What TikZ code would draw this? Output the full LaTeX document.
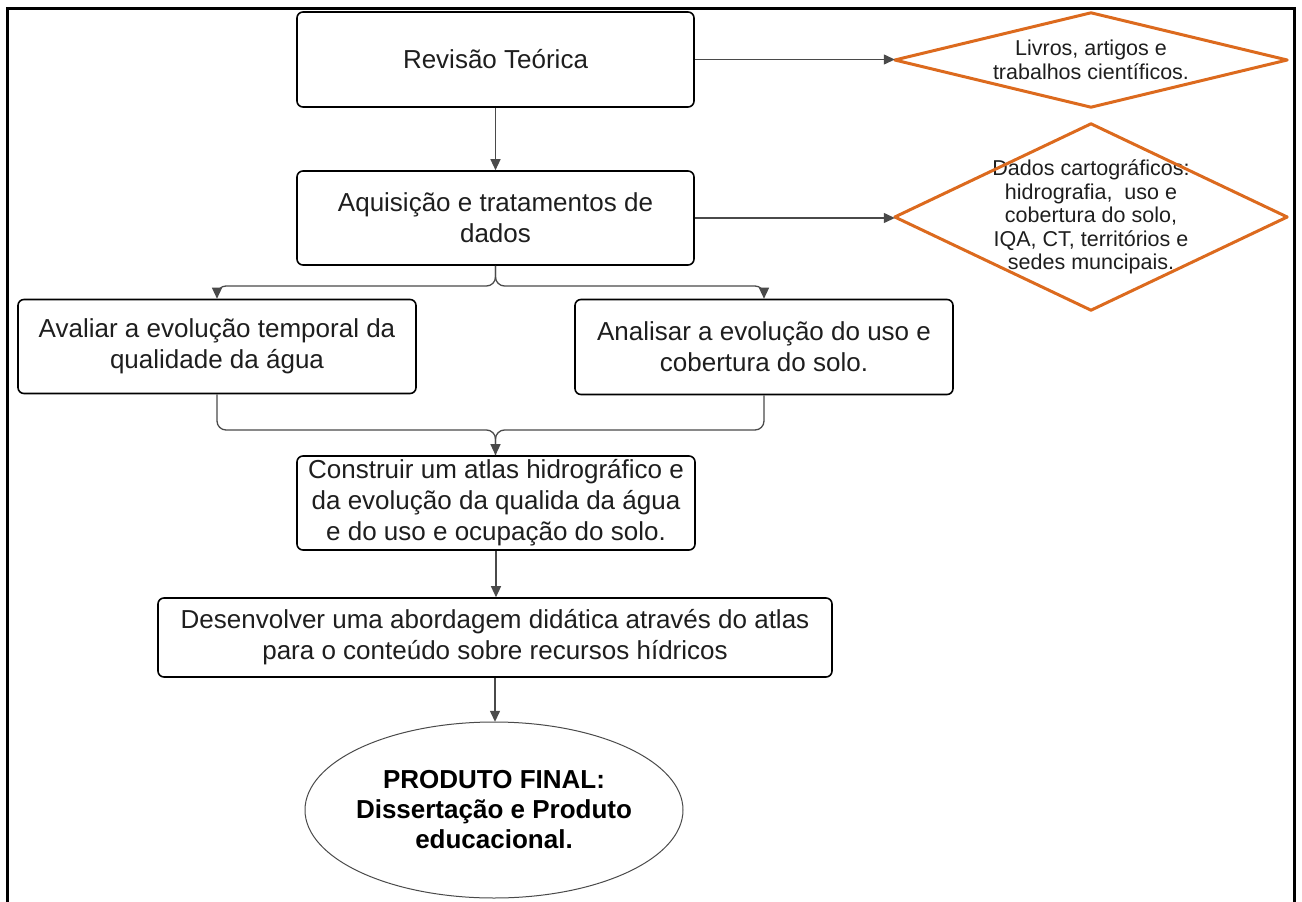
\documentclass[tikz,border=0pt]{standalone}
\usepackage{fontspec}
\setmainfont{Liberation Sans}
\usetikzlibrary{arrows.meta,shapes.geometric}
\definecolor{orangeD}{HTML}{DC6A1E}
\definecolor{connC}{HTML}{4A4A4A}
\definecolor{txtC}{HTML}{1E1E1E}
\tikzset{
  stepbox/.style={draw=black, line width=1.6pt, rounded corners=6pt, inner sep=0pt,
    align=center, text=txtC, font=\fontsize{26}{31}\selectfont},
  diabox/.style={inner sep=0pt, align=center, text=txtC, font=\fontsize{21.5}{23.5}\selectfont},
  diaedge/.style={draw=orangeD, line width=3pt, line join=round},
  conn/.style={draw=connC, line width=1.3pt, -{Triangle[length=11pt,width=10pt]}, rounded corners=9pt},
  connplain/.style={draw=connC, line width=1.3pt, rounded corners=9pt},
  finaltext/.style={inner sep=0pt, align=center, text=black, font=\bfseries\fontsize{26}{30}\selectfont},
  finaledge/.style={draw=connC, line width=1pt}
}
\begin{document}
\begin{tikzpicture}[x=1pt,y=-1pt]
\useasboundingbox (0,0) rectangle (1302,902);
% outer frame
\draw[line width=3pt] (7,905) -- (7,8) -- (1294,8) -- (1294,905);

% step boxes
\node[stepbox, minimum width=397pt, minimum height=95pt] (rev) at (495.5,59.5) {Revisão Teórica};
\node[stepbox, minimum width=397pt, minimum height=94pt] (aq) at (495.5,218) {Aquisição e tratamentos de\\dados};
\node[stepbox, minimum width=398pt, minimum height=94pt] (av) at (217,346.5) {Avaliar a evolução temporal da\\qualidade da água};
\node[stepbox, minimum width=378pt, minimum height=95pt] (an) at (764,347) {Analisar a evolução do uso e\\cobertura do solo.};
\node[stepbox, minimum width=398pt, minimum height=94pt] (co) at (496,503) {Construir um atlas hidrográfico e\\da evolução da qualida da água\\e do uso e ocupação do solo.};
\node[stepbox, minimum width=674pt, minimum height=79pt] (de) at (495,637.5) {Desenvolver uma abordagem didática através do atlas\\para o conteúdo sobre recursos hídricos};

% final ellipse
\node[finaltext, minimum width=378pt, minimum height=176pt] (fin) at (494,810) {PRODUTO FINAL:\\Dissertação e Produto\\educacional.};
\draw[finaledge] (fin.center) ellipse [x radius=189pt, y radius=88pt];

% diamonds
\node[diabox, minimum width=392pt, minimum height=94pt] (d1) at (1091,60) {Livros, artigos e\\trabalhos científicos.};
\draw[diaedge] (d1.west) -- (d1.north) -- (d1.east) -- (d1.south) -- cycle;
\node[diabox, minimum width=392pt, minimum height=186pt] (d2) at (1091,217) {Dados cartográficos:\\hidrografia,\ \ uso e\\cobertura do solo,\\IQA, CT, territórios e\\sedes muncipais.};
\draw[diaedge] (d2.west) -- (d2.north) -- (d2.east) -- (d2.south) -- cycle;

% coordinates for branches
\coordinate (split) at (495.5,286);
\coordinate (join) at (495.5,430);

% connectors
\draw[conn] (rev.east) -- (rev.east -| d1.west);
\draw[conn] (aq.east) -- (aq.east -| d2.west);
\draw[conn] (rev.south) -- (aq.north);
\draw[conn] (aq.south) -- (split) -| (av.north);
\draw[conn] (aq.south) -- (split) -| (an.north);
\draw[connplain] (av.south) |- (join) -- (join |- co.north);
\draw[conn] (an.south) |- (join) -- (join |- co.north);
\draw[conn] (co.south) -- (co.south |- de.north);
\draw[conn] (de.south) -- (de.south |- fin.north);
\end{tikzpicture}
\end{document}
